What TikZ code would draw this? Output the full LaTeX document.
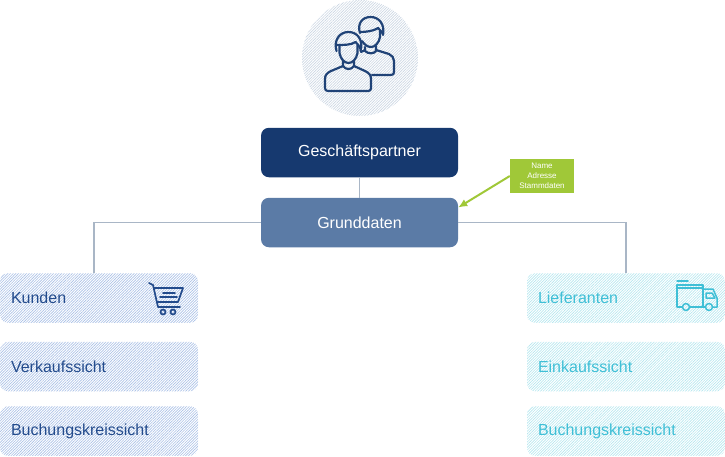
\documentclass[tikz,border=0pt]{standalone}
\usepackage{fontspec}
\setmainfont{Liberation Sans}
\usetikzlibrary{patterns.meta, arrows.meta}
\definecolor{darkblue}{HTML}{16396F}
\definecolor{midblue}{HTML}{5B7BA6}
\definecolor{linegrey}{HTML}{A9B6C6}
\definecolor{leftblue}{HTML}{234B8C}
\definecolor{lefthatch}{HTML}{A9C0E6}
\definecolor{turq}{HTML}{3FBFD6}
\definecolor{turqhatch}{HTML}{B4E6EE}
\definecolor{noteGreen}{HTML}{A0C838}
\definecolor{circhatch}{HTML}{CBD6E3}
\tikzset{
    hatched/.style={pattern={Lines[angle=45, distance=1.9pt, line width=.65pt]}},
    mainbox/.style={rounded corners=8pt, minimum width=197pt, minimum height=49.5pt, inner sep=0pt, text=white, font=\fontsize{16}{19}\selectfont},
    sidebox/.style={rounded corners=8pt, minimum height=49.5pt, inner xsep=11pt, inner ysep=0pt, text width=176pt, align=left, font=\fontsize{16}{19}\selectfont},
    kundenbox/.style={sidebox, hatched, text=leftblue, pattern color=lefthatch},
    liefbox/.style={sidebox, hatched, text=turq, pattern color=turqhatch},
    iconline/.style={line width=2.2pt, line cap=round, line join=round},
    link/.style={draw=linegrey, line width=1.8pt},
    headicon/.pic={
        \draw[iconline] (-12,3) .. controls (-15,-8) and (-9,-16) .. (0,-16) .. controls (9,-16) and (15,-8) .. (12,3);
        \draw[iconline] (-11,-3) .. controls (-5,-3) and (3,-3) .. (7,-6) .. controls (9,-4) and (11,-2) .. (12,1);
        \draw[iconline] (-9,-3) -- (-9,5) .. controls (-8,11) and (-4,15) .. (0,15) .. controls (4,15) and (8,11) .. (9,5) -- (9,-3);
        \draw[iconline] (-5.5,13) -- (-5.5,18) .. controls (-3,22) and (3,22) .. (5.5,18) -- (5.5,13);
    }
}
\begin{document}
\begin{tikzpicture}[x=1pt, y=-1pt, >={Latex[length=9pt, width=8pt]}]
    \useasboundingbox (0,0) rectangle (725,456);

    \draw(360,58) node[circle, hatched, minimum size=116pt, inner sep=0pt, pattern color=circhatch] (person) {};

    \draw(359.5,152.5) node[mainbox, fill=darkblue] (partner) {Geschäftspartner};
    \draw(359.5,222.5) node[mainbox, fill=midblue] (grund) {Grunddaten};

    \draw(99,298) node[kundenbox] (kunden) {Kunden};
    \draw(99,366.5) node[kundenbox] (verkauf) {Verkaufssicht};
    \draw(99,431) node[kundenbox] (buchungL) {Buchungskreissicht};

    \draw(626,298) node[liefbox] (liefer) {Lieferanten};
    \draw(626,366.5) node[liefbox] (einkauf) {Einkaufssicht};
    \draw(626,431) node[liefbox] (buchungR) {Buchungskreissicht};

    \draw(542,176) node[fill=noteGreen, text=white, minimum width=64pt, minimum height=34pt, inner sep=0pt, align=center, font=\fontsize{8}{9.8}\selectfont] (note) {Name\\Adresse\\Stammdaten};

    \draw[link] (partner) -- (grund);
    \draw[link] (grund.west) -| ([xshift=-5pt]kunden.north);
    \draw[link] (grund.east) -| (liefer.north);
    \draw[->, draw=noteGreen, fill=noteGreen, line width=2pt] (note.west) -- ([yshift=15pt]grund.east);

    % persons
    \begin{scope}[darkblue!85!midblue]
    \path (348.5,48) pic {headicon};
    \draw[iconline] (343,66) -- (331,71) .. controls (327,73) and (325,75) .. (325,79) -- (325,88) .. controls (325,90) and (326,91) .. (328,91) -- (368,91) .. controls (370,91) and (371,90) .. (371,88) -- (371,79) .. controls (371,75) and (369,73) .. (365,71) -- (354,66);
    \draw[iconline] (360,33) .. controls (357,24) and (362,17) .. (370.5,17) .. controls (379,17) and (385,24) .. (383,35);
    \draw[iconline] (360,32) .. controls (366,32) and (374,31) .. (378,28) .. controls (380,30) and (382,32) .. (383,34);
    \draw[iconline] (380,31) -- (380,37) .. controls (379,43) and (375,47) .. (371,47) .. controls (367,47) and (364,44) .. (362,41);
    \draw[iconline] (376,46) -- (376,51) .. controls (374,54) and (368,54) .. (365,51) -- (365,47);
    \draw[iconline] (365,50) -- (361,52);
    \draw[iconline] (376,50) -- (389,54) .. controls (392,55) and (394,58) .. (394,61) -- (394,72) .. controls (394,74) and (393,75) .. (391,75) -- (372,75);
    \end{scope}

    % cart
    \begin{scope}[leftblue, line width=1.7pt, line cap=round, line join=round]
    \draw (149,283) -- (153,285) -- (158,307) -- (180,307);
    \draw (154,288) -- (183,288) -- (178,302) -- (157,302);
    \draw (163,293) -- (175,293) (160,297) -- (177,297);
    \draw (163,312) circle (2.5) (173,312) circle (2.5);
    \end{scope}

    % truck
    \begin{scope}[turq, line width=1.5pt, line cap=round, line join=round]
    \draw (677,281) -- (688,281) (678,288) -- (702,288);
    \draw (682,307) -- (677,307) -- (677,285) -- (703,285) -- (703,307);
    \draw (690,307) -- (705,307);
    \draw (703,289) -- (713,289) -- (717,298) -- (717,307) -- (713,307);
    \draw (706,293) -- (712,293) -- (715,298) -- (706,298) -- cycle;
    \draw (686,307) circle (3.5) (709,307) circle (3.5);
    \end{scope}

\end{tikzpicture}
\end{document}
